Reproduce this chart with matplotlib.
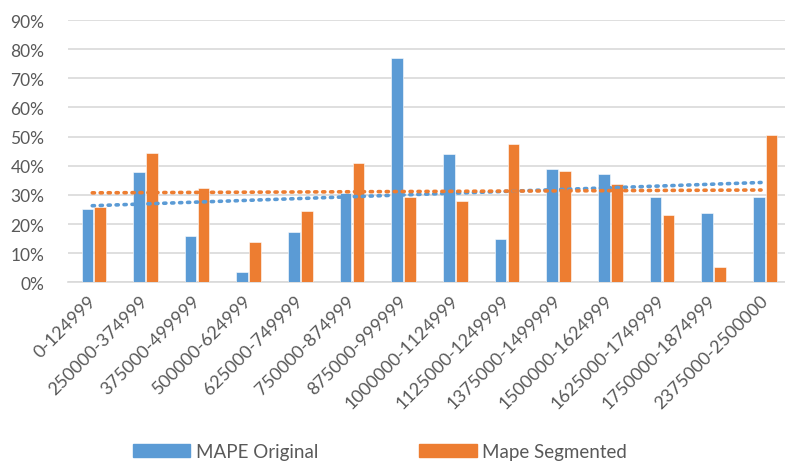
import numpy as np
import matplotlib.pyplot as plt
from matplotlib.patches import Patch

plt.rcParams['font.family'] = ['Lato', 'DejaVu Sans']

ranges = ["0-124999", "250000-374999", "375000-499999", "500000-624999",
          "625000-749999", "750000-874999", "875000-999999", "1000000-1124999",
          "1125000-1249999", "1375000-1499999", "1500000-1624999",
          "1625000-1749999", "1750000-1874999", "2375000-2500000"]
mape_orig = [25.0, 37.8, 16.0, 3.6, 17.2, 30.6, 77.0, 44.1, 14.9, 38.8, 37.0, 29.1, 23.9, 29.1]
mape_seg = [25.8, 44.4, 32.4, 13.7, 24.3, 40.8, 29.1, 28.0, 47.5, 38.1, 33.7, 23.1, 5.3, 50.4]

blue, orange = "#5B9BD5", "#ED7D31"
grey = "#595959"

fig = plt.figure(figsize=(7.85, 4.64), dpi=100)
ax = fig.add_axes([68/785, 180.7/464, 723/785, 262.3/464])

x = np.arange(len(ranges))
w = 0.225
orig = np.array(mape_orig) / 100
seg = np.array(mape_seg) / 100
ax.bar(x - 0.125, orig, w, color=blue, edgecolor="white", linewidth=0.4, zorder=3)
ax.bar(x + 0.125, seg, w, color=orange, edgecolor="white", linewidth=0.4, zorder=3)

# excel style linear trendlines
for vals, c in [(orig, blue), (seg, orange)]:
    k, b = np.polyfit(x, vals, 1)
    xx = np.array([-0.03, 12.92])
    ax.plot(xx, k*xx + b, color=c, ls=(0, (0.6, 1.6)), lw=2.6,
            dash_capstyle="round", zorder=4)

ax.set_xlim(-0.5, len(ranges) - 0.5)
ax.set_ylim(0, 0.9)
ax.set_yticks(np.arange(0, 0.91, 0.1))
ax.set_yticklabels([f"{int(round(v*100))}%" for v in np.arange(0, 0.91, 0.1)],
                   fontsize=12.5, color=grey)
ax.set_xticks(x)
ax.set_xticklabels(ranges, rotation=45, ha="right", va="center",
                   rotation_mode="anchor", fontsize=13, color=grey)
ax.tick_params(length=0)
ax.tick_params(axis="y", pad=17)
ax.tick_params(axis="x", pad=11)
ax.grid(axis="y", color="#d9d9d9", lw=1.2, zorder=0)
for s in ["top", "right", "left"]:
    ax.spines[s].set_visible(False)
ax.spines["bottom"].set_color("#d9d9d9")
ax.spines["bottom"].set_linewidth(1.2)

handles = [Patch(color=blue, label="MAPE Original"),
           Patch(color=orange, label="Mape Segmented")]
fig.legend(handles=handles, loc="lower left", bbox_to_anchor=(116/785, -14/464),
           ncol=2, frameon=False, fontsize=13.5, labelcolor=grey,
           handlelength=3.05, handleheight=0.7, handletextpad=0.3,
           columnspacing=5.4)

fig.savefig("out.png", dpi=100)
